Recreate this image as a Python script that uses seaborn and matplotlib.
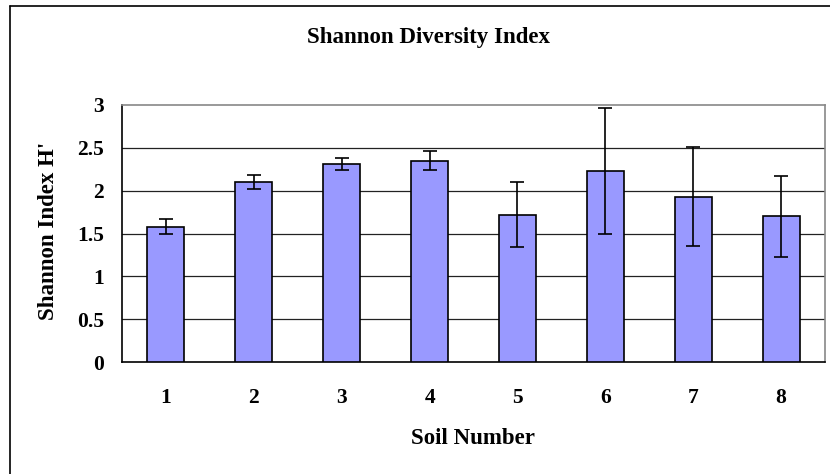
import numpy as np
import pandas as pd
import seaborn as sns
import matplotlib.pyplot as plt
from matplotlib.lines import Line2D
from matplotlib.ticker import FixedLocator

# Valori
soil = ['1', '2', '3', '4', '5', '6', '7', '8']
shannon = [1.58, 2.10, 2.31, 2.35, 1.72, 2.23, 1.93, 1.70]
errore = [0.09, 0.08, 0.07, 0.11, 0.38, 0.73, 0.58, 0.47]
y_ticks = [0, 0.5, 1, 1.5, 2, 2.5, 3]
y_tick_labels = ['0', '0.5', '1', '1.5', '2', '2.5', '3']

df = pd.DataFrame({'Soil': soil, 'H': shannon})

sns.set_style('white')
plt.rcParams['font.family'] = ['Liberation Serif', 'DejaVu Serif']
plt.rcParams['font.weight'] = 'bold'
plt.rcParams['text.color'] = 'black'
plt.rcParams['xtick.color'] = 'black'
plt.rcParams['ytick.color'] = 'black'

fig = plt.figure(figsize=(8.3, 4.74), dpi=100)
ax = fig.add_axes([122 / 830, 1 - 362 / 474, (825 - 122) / 830, (362 - 105) / 474])

sns.barplot(data=df, x='Soil', y='H', color='#9999FF', saturation=1, width=0.42,
            edgecolor='black', linewidth=1.2, errorbar=None, ax=ax, zorder=3)
ax.errorbar(np.arange(len(soil)), shannon, yerr=errore, fmt='none', ecolor='black',
            elinewidth=1.2, capsize=5, capthick=1.2, zorder=4)

ax.set_ylim(0, 3)
ax.set_xlim(-0.5, len(soil) - 0.5)
ax.set_yticks(y_ticks)
ax.set_yticklabels(y_tick_labels)
for y in y_ticks[1:-1]:
    ax.axhline(y, color='#222222', linewidth=0.9, zorder=1)

# tacche tra le categorie
ax.xaxis.set_minor_locator(FixedLocator(np.arange(-0.5, len(soil), 1.0)))
ax.tick_params(axis='x', which='major', length=0, pad=19, labelsize=15.5, labelcolor='black')
ax.tick_params(axis='x', which='minor', length=6, width=1, color='black', direction='out')
ax.tick_params(axis='y', length=5, width=1, color='black', direction='out', pad=8,
               labelsize=15.5, labelcolor='black')
for lab in ax.get_xticklabels() + ax.get_yticklabels():
    lab.set_fontweight('bold')

ax.set_xlabel('')
ax.set_ylabel('')
ax.spines['left'].set_color('black')
ax.spines['bottom'].set_color('black')
ax.spines['top'].set_color('#888888')
ax.spines['right'].set_color('#888888')
for s in ax.spines.values():
    s.set_linewidth(1.2)

fig.text(428 / 830, 1 - 37 / 474, 'Shannon Diversity Index', ha='center', va='center',
         fontsize=16.5, fontweight='bold', color='black')
fig.text(473 / 830, 1 - 439 / 474, 'Soil Number', ha='center', va='center',
         fontsize=16.5, fontweight='bold', color='black')
fig.text(48 / 830, 1 - 231 / 474, "Shannon Index H'", ha='center', va='center',
         rotation=90, fontsize=16.5, fontweight='bold', color='black')

# cornice esterna (tagliata a destra e in basso)
fig.add_artist(Line2D([9.5 / 830, 9.5 / 830], [0, 1 - 5.5 / 474], color='black', linewidth=1.2))
fig.add_artist(Line2D([9.5 / 830, 1], [1 - 5.5 / 474, 1 - 5.5 / 474], color='black', linewidth=1.2))

fig.savefig('out.png', dpi=100)
